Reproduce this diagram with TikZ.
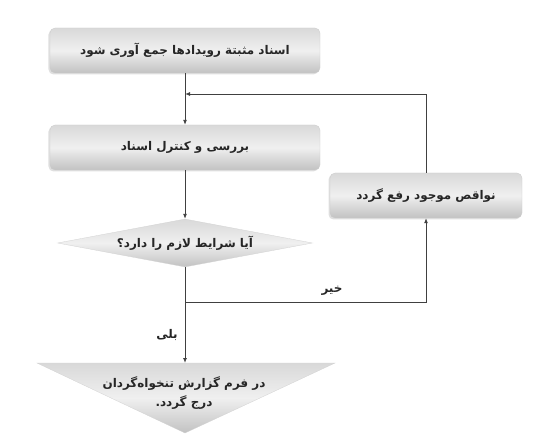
\documentclass[tikz,border=0pt]{standalone}
\usepackage{fontspec}
\newfontfamily\fa[Script=Arabic]{DejaVu Sans}
\TeXXeTstate=1
\usetikzlibrary{arrows.meta,shapes.geometric,shadows}
\begin{document}
\begin{tikzpicture}[x=1bp,y=-1bp,
  shadefill/.style={top color=gray!30, bottom color=gray!48, middle color=gray!12},
  txt/.style={font=\fa\bfseries\fontsize{12}{20}\selectfont, text=black!85},
  box/.style={shadefill, draw=gray!40, line width=0.3bp, rounded corners=5bp,
    minimum height=45bp, inner sep=0pt, txt,
    drop shadow={shadow xshift=-1.5bp, shadow yshift=-1.5bp, opacity=0.25}},
  dec/.style={diamond, shape aspect=5.3, shadefill, draw=gray!35, line width=0.3bp, inner sep=0pt,
    minimum width=255bp, minimum height=48bp, txt},
  conn/.style={draw=black!75, line width=0.9bp},
  arr/.style={conn, -{Latex[length=5bp,width=4bp]}}
]
\useasboundingbox (0,0) rectangle (535,446);

\node[box, minimum width=270bp] (b1) at (185,50.5) {\beginR اسناد مثبتة رویدادها جمع آوری شود\endR};
\node[box, minimum width=270bp] (b2) at (185,147.5) {\beginR بررسی و کنترل اسناد\endR};
\node[box, minimum width=192bp] (b3) at (426,195.5) {\beginR نواقص موجود رفع گردد\endR};
\node[dec] (d) at (185,243) {\beginR آیا شرایط لازم را دارد؟\endR};

\path[shadefill, draw=gray!35, line width=0.3bp] (37,363) -- (335,363) -- (185,433) -- cycle;
\coordinate (ttop) at (185,363);
\node[txt, align=center] (t) at (184,393) {\beginR در فرم گزارش تنخواه‌گردان\endR\\\beginR درج گردد.\endR};

\node[txt] (yes) at (167,335) {\beginR بلی\endR};
\node[txt] (no) at (332,291) {\beginR خیر\endR};

\coordinate (fb) at (426,94);
\coordinate (j1) at (b1.south |- fb);
\coordinate (j2) at (185,302);

\draw[arr] (b1.south) -- (b2.north);
\draw[arr] (b3.north) |- (j1);
\draw[arr] (b2.south) -- (d.north);
\draw[conn] (d.south) -- (j2);
\draw[arr] (j2) -- (ttop);
\draw[arr] (j2) -| (b3.south);
\end{tikzpicture}
\end{document}
